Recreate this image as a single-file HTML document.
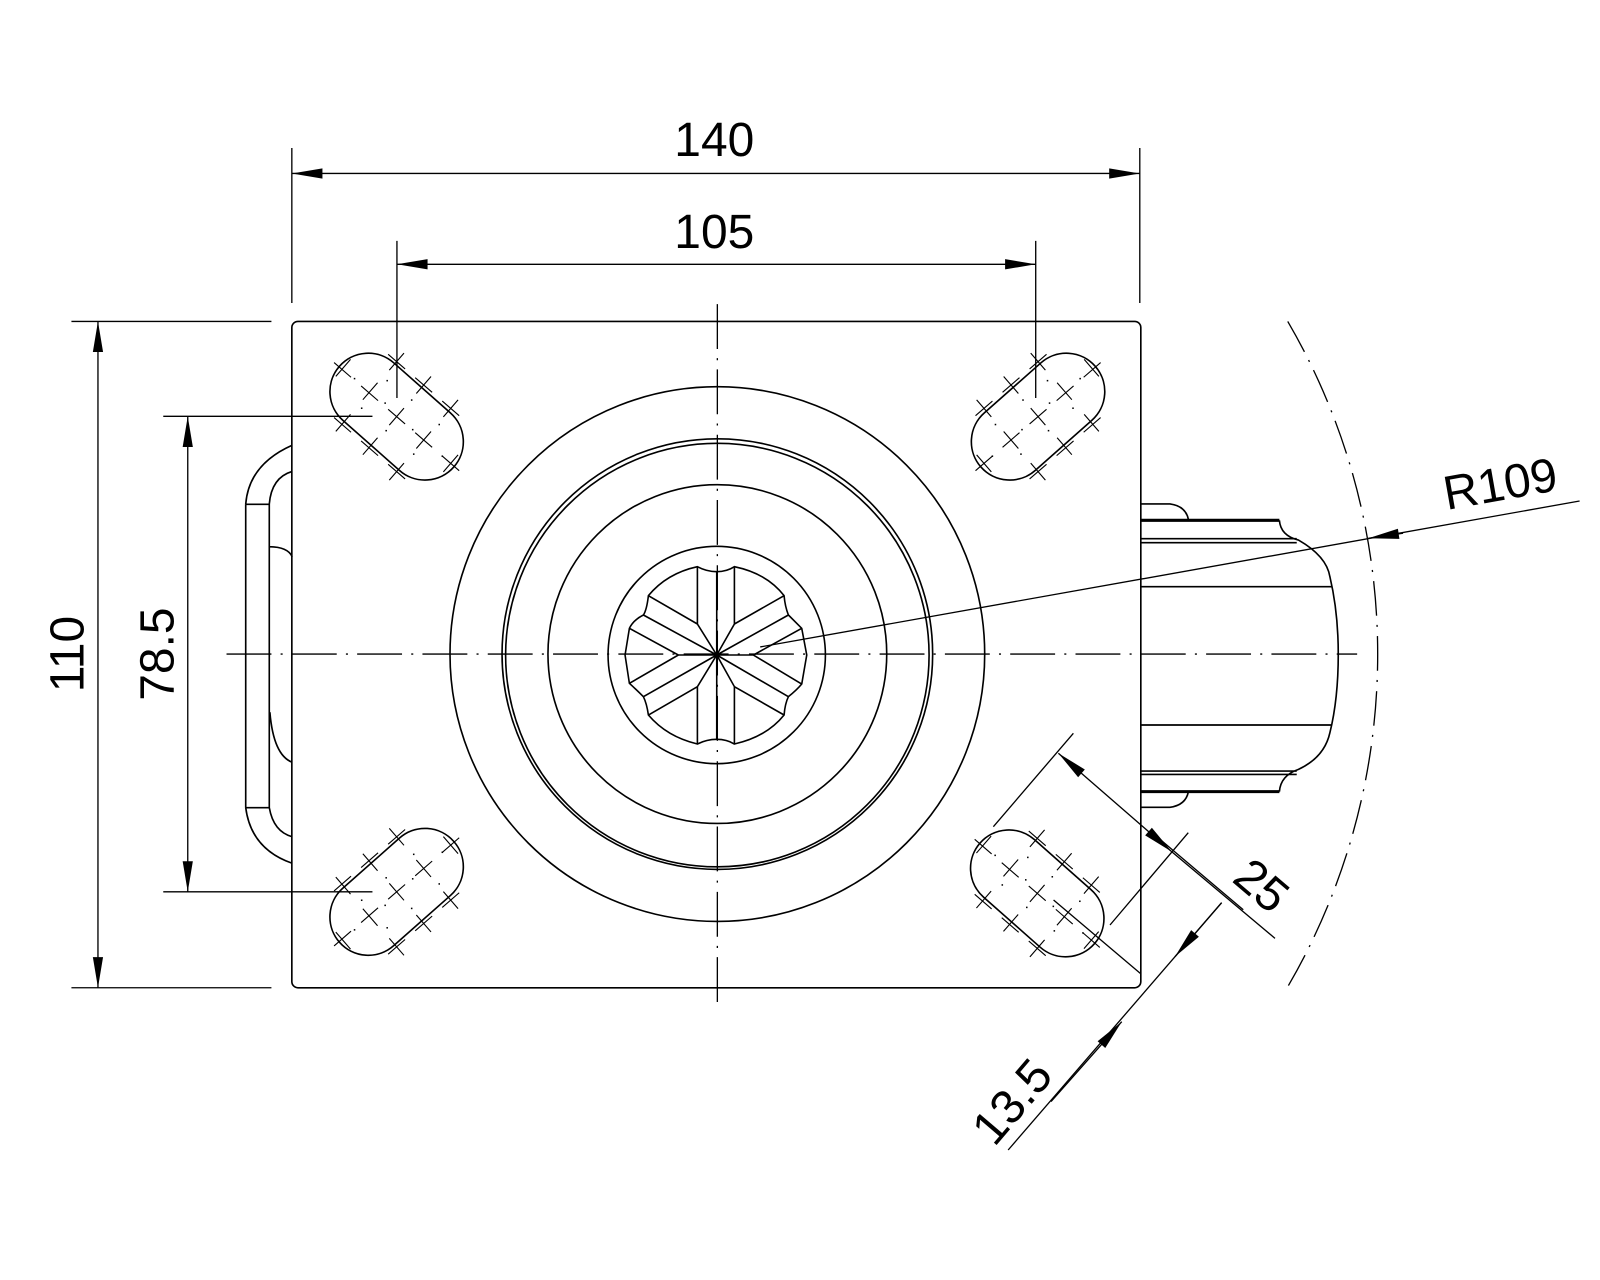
<!DOCTYPE html>
<html><head><meta charset="utf-8"><style>html,body{margin:0;padding:0;background:#fff}svg{display:block}</style></head>
<body>
<svg width="1600" height="1280" viewBox="0 0 1568 1254.4" xmlns="http://www.w3.org/2000/svg">
<defs>
<marker id="ar" markerUnits="userSpaceOnUse" markerWidth="34" markerHeight="14" viewBox="-32 -6 34 12" refX="0" refY="0" orient="auto-start-reverse">
<path d="M0,0 L-30,-5 L-30,5 Z" fill="#000"/>
</marker>
<g id="slot" fill="none" stroke="#000" stroke-width="1.3">
<path d="M-2.85,-52.75 L52.65,-3.65 A37.6,37.6 0 0 1 2.85,52.75 L-52.65,3.65 A37.6,37.6 0 0 1 -2.85,-52.75 Z" stroke-width="1.6"/>
<g stroke-width="1.1">
<path d="
M-61.3,-53.0 l16.6,14.4 M-59.6,-39.5 l14.4,-16.6
M-34.8,-30.1 l16.6,14.4 M-33.1,-16.6 l14.4,-16.6
M-8.3,-7.2 l16.6,14.4 M-7.2,8.3 l14.4,-16.6
M18.2,15.7 l16.6,14.4 M19.3,31.2 l14.4,-16.6
M44.7,38.6 l16.6,14.4 M45.8,54.1 l14.4,-16.6
M-8.3,-61.1 l16.6,14.4 M-7.2,-45.6 l14.4,-16.6
M18.2,-38.2 l16.6,14.4 M19.3,-22.7 l14.4,-16.6
M44.7,-15.3 l16.6,14.4 M45.8,0.2 l14.4,-16.6
M-8.3,46.7 l16.6,14.4 M-7.2,62.2 l14.4,-16.6
M-34.8,23.8 l16.6,14.4 M-33.1,37.3 l14.4,-16.6
M-61.3,0.9 l16.6,14.4 M-59.6,14.4 l14.4,-16.6"/>
</g>
<g fill="#000" stroke="none">
<rect x="-42" y="-38" width="1.5" height="1.5"/><rect x="-10" y="-36" width="1.5" height="1.5"/>
<rect x="-35" y="-9" width="1.5" height="1.5"/><rect x="-12" y="-14" width="1.5" height="1.5"/><rect x="14" y="-17" width="1.5" height="1.5"/>
<rect x="-11" y="13" width="1.5" height="1.5"/><rect x="15" y="12" width="1.5" height="1.5"/><rect x="41" y="7" width="1.5" height="1.5"/>
<rect x="16" y="36" width="1.5" height="1.5"/><rect x="44" y="38" width="1.5" height="1.5"/>
</g>
</g>
</defs>

<g fill="none" stroke="#000" stroke-width="1.6">
<rect x="286" y="315" width="832" height="653" rx="6"/>
<circle cx="703" cy="641" r="262"/>
<circle cx="703" cy="641" r="211"/>
<circle cx="703" cy="642" r="207.5"/>
<circle cx="703" cy="641" r="166"/>

<g transform="translate(702.4,641.9) scale(0.3267) translate(-410,-375)" stroke-width="4.8">
<circle cx="410" cy="375" r="326"/>
<path d="M352,110 Q260,130 205,197 Q200,240 190,255 Q160,270 148,295 L135,375 L148,460 Q170,480 190,500 Q200,520 205,555 Q260,620 352,642 Q380,628 410,628 Q440,628 463,642 Q560,620 612,555 Q615,520 625,500 Q650,480 665,462 L680,375 L665,295 Q640,270 625,255 Q615,230 612,197 Q560,130 463,110 Q440,125 410,125 Q380,125 352,110 Z"/>
<path d="M352,110 L352,282 L410,375 L463,282 L463,110
M352,642 L352,470 L410,375 L463,470 L463,642
M205,197 L352,282 M190,255 L410,375 M148,295 L295,375 L148,460 M295,375 L410,375 M190,500 L410,375 M205,555 L352,470
M612,197 L463,282 M625,255 L410,375 M665,295 L520,375 L665,462 M520,375 L410,375 M625,500 L410,375 M612,555 L463,470
M410,125 L410,628"/>
</g>

<use href="#slot" transform="translate(388.7,408.3)"/>
<use href="#slot" transform="translate(1017.3,408.3) scale(-1,1)"/>
<use href="#slot" transform="translate(388.7,874) scale(1,-1)"/>
<use href="#slot" transform="translate(1016.5,875.5)"/>

<path d="M240.8,494 L240.8,791.5 M263.9,494 L263.9,791.5 M240.8,494.2 L263.9,494.2 M240.8,791.5 L263.9,791.5
M240.8,494 Q244,455 286.3,436.3 M263.9,494 Q266,468 286.3,462 M263.9,535.8 Q282,536 286.3,545.6
M240.8,791.5 Q246,832 286.3,846 M263.9,791.5 Q268,815 286.3,820 M264.5,698 Q268,740 286.3,747"/>

<path d="M1118.5,493.9 L1146.6,493.9 Q1162,496 1164.6,508.9
M1118.5,527.9 L1270.8,527.9 M1118.5,531.8 L1270.8,531.8 M1118.5,575 L1305.4,575
M1118.5,710.5 L1305.4,710.5 M1118.5,755.6 L1270.8,755.6 M1118.5,758.9 L1270.8,758.9
M1118.5,791.2 L1146.6,791.2 Q1162,789 1164.6,776
M1253.8,509.9 Q1255,525 1272.5,529.3 Q1300,545 1303.3,565.2 Q1311.5,600 1311.5,641 Q1311.5,685 1303.3,718 Q1298,742 1272.5,754 Q1255,760 1253.8,775.8"/>
<path d="M1118.5,509.9 L1253.8,509.9 M1118.5,775.8 L1253.8,775.8" stroke-width="3"/>

<path d="M222,641 L1330,641 M703,298 L703,990" stroke-width="1.3" stroke-dasharray="44 9 2 9"/>
<path d="M1262,315 A647,647 0 0 1 1262,967" stroke-width="1.3" stroke-dasharray="34 9 2 9"/>
</g>

<g fill="none" stroke="#000" stroke-width="1.3">
<path d="M286,145 L286,297 M1117,145 L1117,297 M389,236 L389,390 M1015,236 L1015,390
M70,315 L266,315 M70,968 L266,968 M160,408 L365,408 M160,874 L365,874"/>
<path d="M286,170 L1117,170" marker-start="url(#ar)" marker-end="url(#ar)"/>
<path d="M389,259 L1015,259" marker-start="url(#ar)" marker-end="url(#ar)"/>
<path d="M96,315 L96,968" marker-start="url(#ar)" marker-end="url(#ar)"/>
<path d="M184,408 L184,874" marker-start="url(#ar)" marker-end="url(#ar)"/>
<path d="M745,634 L1548,491"/>
<path d="M1375,522.5 L1341,527.5" marker-end="url(#ar)"/>
<path d="M973.5,810.2 L1051.9,718.6 M1087.8,906.5 L1164.5,816"/>
<path d="M1037.2,738.2 L1148.2,834.6" marker-start="url(#ar)" marker-end="url(#ar)"/>
<path d="M1148.2,834.6 L1249.5,919.6"/>
<path d="M1133.4,819.7 L1218.4,891.6 M1032.5,882 L1117.5,953.9"/>
<path d="M1197.2,884.6 L988,1127"/>
<path d="M1197.2,884.6 L1151.5,937.5" marker-end="url(#ar)"/>
<path d="M1030,1079.5 L1099.3,1001.3" marker-end="url(#ar)"/>
</g>

<g font-family="Liberation Sans, sans-serif" font-size="47" fill="#000" text-anchor="middle">
<text x="700" y="153">140</text>
<text x="700" y="243">105</text>
<text transform="translate(82,641) rotate(-90)">110</text>
<text transform="translate(170,641) rotate(-90)">78.5</text>
<text transform="translate(1473,490) rotate(-10)">R109</text>
<text transform="translate(1226,880) rotate(40.5)">25</text>
<text transform="translate(1004,1090) rotate(-49.5)">13.5</text>
</g>
</svg>
</body></html>
